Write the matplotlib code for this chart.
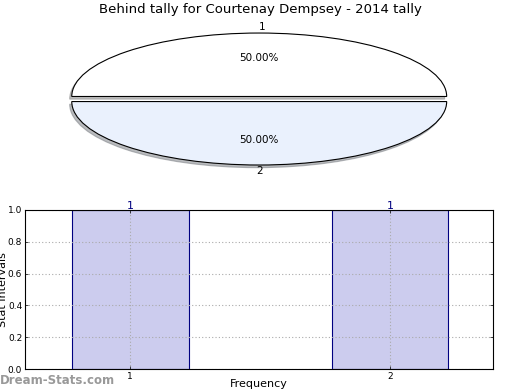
import numpy as np
import matplotlib.pyplot as plt

title = 'Behind tally for Courtenay Dempsey - 2014 tally'
pie_labels = ['1', '2']
pie_values = [1, 1]
pie_colors = ['#ffffff', '#eaf1fd']

bar_x = [1, 2]
bar_vals = [1, 1]

fig = plt.figure(figsize=(5.2, 3.9), dpi=100)

# pie on top, squashed into an ellipse
ax1 = fig.add_axes([0.138, 0.5346, 0.721, 0.423])
wedges, texts, autotexts = ax1.pie(pie_values, labels=pie_labels, colors=pie_colors,
                                   explode=[0.04, 0.04],
                                   shadow={'ox': -0.008, 'oy': -0.03, 'shade': 0.5},
                                   startangle=0,
                                   autopct='%1.2f%%', pctdistance=0.6, labeldistance=1.1,
                                   wedgeprops=dict(edgecolor='black', linewidth=0.8),
                                   textprops=dict(fontsize=7.5))
texts[0].set_ha('left')
texts[1].set_ha('center')
ax1.set_aspect('auto')
ax1.set_xlim(-1, 1)
ax1.set_ylim(-1.3, 1.3)
fig.text(0.5, 0.975, title, ha='center', va='center', fontsize=9.5)

# bars below
ax2 = fig.add_axes([0.048, 0.0538, 0.9, 0.408])
ax2.bar(bar_x, bar_vals, width=0.45, color='#ccccee', edgecolor='#000080', linewidth=0.8, zorder=2)
for x, v in zip(bar_x, bar_vals):
    ax2.text(x, v - 0.01, str(v), ha='center', va='bottom', color='#000080', fontsize=8)
ax2.set_xlim(0.596, 2.396)
ax2.set_ylim(0, 1)
ax2.set_xticks(bar_x)
ax2.set_yticks(np.arange(0, 1.01, 0.2))
ax2.set_axisbelow(False)
ax2.tick_params(direction='in', labelsize=6.5, top=True, right=True, length=2, width=0.5, pad=2)
ax2.grid(True, linestyle=(0, (1, 2)), color='#aaaaaa', linewidth=0.8)
ax2.set_ylabel('Stat Intervals', fontsize=8)
ax2.yaxis.set_label_coords(-0.037, 0.5)
ax2.set_xlabel('Frequency', fontsize=8)
ax2.xaxis.set_label_coords(0.5, -0.06)
for s in ax2.spines.values():
    s.set_linewidth(0.8)
    s.set_zorder(4)

fig.text(0.0, 0.025, 'Dream-Stats.com', color='#999999', fontsize=8.5, fontweight='bold',
         ha='left', va='center')

fig.savefig('out.png', dpi=100)
